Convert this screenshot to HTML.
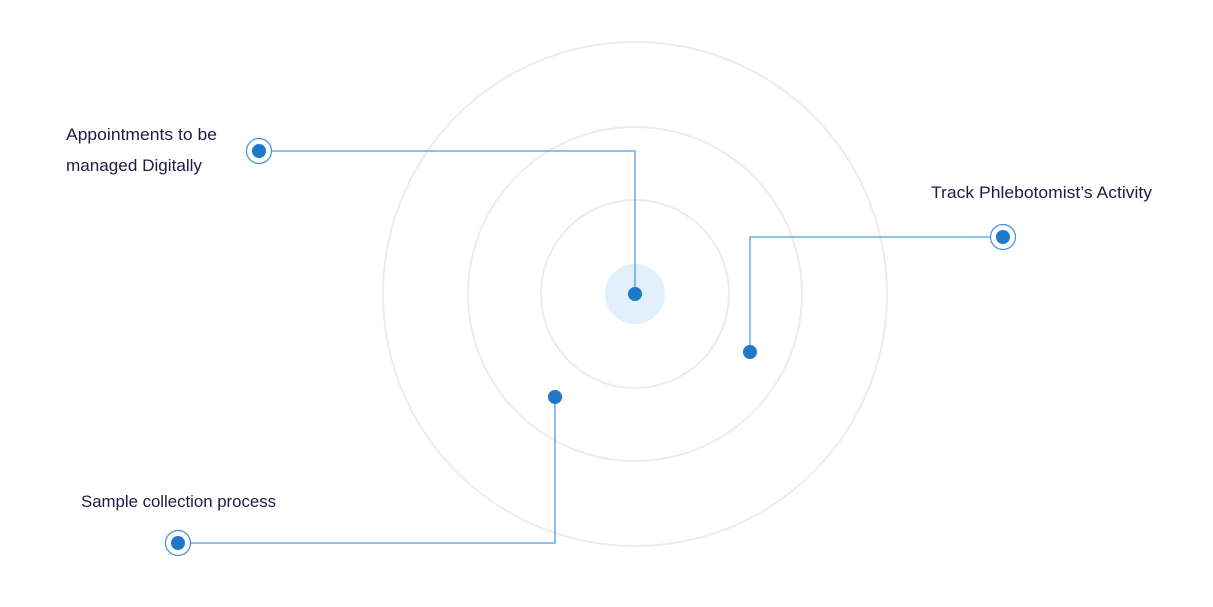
<!DOCTYPE html>
<html><head><meta charset="utf-8">
<style>
html,body{margin:0;padding:0;background:#fff;}
svg{display:block;}
text{font-family:"Liberation Sans",sans-serif;font-size:17px;fill:#1c1c45;}
</style></head>
<body>
<svg id="diagram" width="1213" height="607" viewBox="0 0 1213 607" xmlns="http://www.w3.org/2000/svg"></svg>
<script>
const ringRadii = [94, 167, 252];
const labels = [
  {lines:["Appointments to be","managed Digitally"], x:66, ys:[140,171], widths:[151,136]},
  {lines:["Track Phlebotomist’s Activity"], x:931, ys:[198], widths:[221]},
  {lines:["Sample collection process"], x:81, ys:[507], widths:[195]}
];
const callouts = [
  {name:"appointments", marker:[259,151], corner:[635,151], end:[635,294]},
  {name:"phlebotomist-activity", marker:[1003,237], corner:[750,237], end:[750,352]},
  {name:"sample-collection", marker:[178,543], corner:[555,543], end:[555,397]}
];
const cx = 635, cy = 294;
const svg = document.getElementById('diagram');
const NS = 'http://www.w3.org/2000/svg';
function mk(tag, attrs){ const e=document.createElementNS(NS,tag); for(const k in attrs) e.setAttribute(k,attrs[k]); svg.appendChild(e); return e; }

ringRadii.forEach((r,i)=>{
  const c = mk('circle',{cx:cx,cy:cy,r:r,fill:'none',stroke:'#ececec','stroke-width':2});
  
  
});
const glow = mk('circle',{cx:cx,cy:cy,r:30,fill:'#e1f0fc'});



callouts.forEach(c=>{
  const p = mk('polyline',{points:`${c.marker[0]},${c.marker[1]} ${c.corner[0]},${c.corner[1]} ${c.end[0]},${c.end[1]}`,fill:'none',stroke:'#4a9ee2','stroke-width':1.3});
  
  
  const ring = mk('circle',{cx:c.marker[0],cy:c.marker[1],r:12.5,fill:'#fff',stroke:'#3f92dc','stroke-width':1.2});
  
  
  const dot = mk('circle',{cx:c.marker[0],cy:c.marker[1],r:7,fill:'#1f78c8'});
  
  
  const endDot = mk('circle',{cx:c.end[0],cy:c.end[1],r:7,fill:'#1f78c8'});
  
  
});

labels.forEach((l,i)=>{
  l.lines.forEach((t,j)=>{
    const e = mk('text',{x:l.x,y:l.ys[j],textLength:l.widths[j],lengthAdjust:'spacingAndGlyphs'});
    e.textContent = t;
    
    
  });
});
</script>
</body></html>
